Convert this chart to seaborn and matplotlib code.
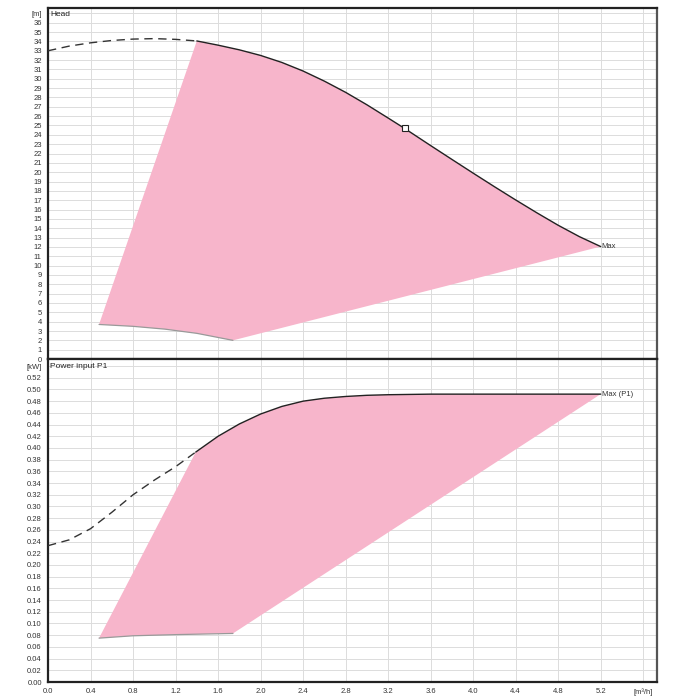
import numpy as np
import matplotlib
matplotlib.use("Agg")
import matplotlib.pyplot as plt
from matplotlib import ticker
import seaborn as sns
import pandas as pd

sns.set_style("white")
plt.rcParams["font.family"] = ["Liberation Sans", "DejaVu Sans"]

# Head curve [m] vs flow [m3/h]
head_dash_q = [0.0, 0.2, 0.4, 0.6, 0.8, 1.0, 1.2, 1.40]
head_dash_h = [33.0, 33.5, 33.85, 34.1, 34.25, 34.3, 34.22, 34.05]
head_q = [1.40, 1.6, 1.8, 2.0, 2.2, 2.4, 2.6, 2.8, 3.0, 3.2, 3.36, 3.6, 3.8, 4.0, 4.2, 4.4, 4.6, 4.8, 5.0, 5.2]
head_h = [34.05, 33.6, 33.1, 32.5, 31.75, 30.83, 29.75, 28.55, 27.22, 25.8, 24.65, 22.85, 21.37, 19.9, 18.45, 17.03, 15.65, 14.32, 13.1, 12.04]
head_min_q = [0.48, 0.8, 1.1, 1.4, 1.74]
head_min_h = [3.7, 3.5, 3.2, 2.75, 2.0]
duty_q = [3.36]
duty_h = [24.7]

# Power input P1 [kW] vs flow [m3/h]
p1_dash_q = [0.0, 0.2, 0.4, 0.6, 0.8, 1.0, 1.2, 1.39]
p1_dash_p = [0.233, 0.243, 0.262, 0.29, 0.32, 0.345, 0.368, 0.393]
p1_q = [1.39, 1.6, 1.8, 2.0, 2.2, 2.4, 2.6, 2.8, 3.0, 3.2, 3.6, 4.0, 4.4, 4.8, 5.2]
p1_p = [0.393, 0.420, 0.441, 0.458, 0.471, 0.480, 0.485, 0.488, 0.490, 0.491, 0.492, 0.492, 0.492, 0.492, 0.492]
p1_min_q = [0.48, 0.8, 1.2, 1.74]
p1_min_p = [0.075, 0.079, 0.081, 0.083]

x_ticks = [0.0, 0.4, 0.8, 1.2, 1.6, 2.0, 2.4, 2.8, 3.2, 3.6, 4.0, 4.4, 4.8, 5.2]
pink = "#f7b5cb"

fig = plt.figure(figsize=(7, 7), dpi=100)
ax1 = fig.add_axes([0.0686, 0.4871, 0.87, 0.5015])
ax2 = fig.add_axes([0.0686, 0.0257, 0.87, 0.4614])

def style_axis(ax, ymajor, yminor, ymax_lab, unit, fmt):
    ax.set_xlim(0, 5.73)
    xt = x_ticks + [5.6]
    ax.set_xticks(xt)
    ax.xaxis.set_minor_locator(ticker.MultipleLocator(0.1))
    yt = list(np.round(np.arange(0, ymax_lab + ymajor / 2, ymajor), 4))
    ax.set_yticks(yt)
    ax.set_yticklabels([fmt.format(v) for v in yt[:-1]] + [unit])
    ax.yaxis.set_minor_locator(ticker.MultipleLocator(yminor))
    ax.grid(True, which="major", color="#dcdcdc", lw=0.7)
    ax.set_axisbelow(True)
    ax.tick_params(axis="both", which="major", labelsize=5.5, length=3, width=0.7,
                   colors="#333333", pad=1.5, direction="out")
    ax.tick_params(axis="both", which="minor", length=2, width=0.5, color="#333333")
    for side in ["left", "top", "bottom"]:
        ax.spines[side].set_color("#222222")
        ax.spines[side].set_linewidth(1.6)
    ax.spines["right"].set_color("#555555")
    ax.spines["right"].set_linewidth(1.6)
    ax.set_xlabel("")
    ax.set_ylabel("")

# --- Head panel ---
poly_q = head_q + head_min_q[::-1]
poly_h = head_h + head_min_h[::-1]
ax1.fill(poly_q, poly_h, color=pink, lw=0, zorder=1)
ax1.plot(head_min_q, head_min_h, color="#999999", lw=0.9, zorder=2)
sns.lineplot(x=head_q, y=head_h, ax=ax1, color="#222222", lw=1.0, zorder=3)
ax1.plot(head_dash_q, head_dash_h, color="#333333", lw=1.0, ls=(0, (6, 4)), zorder=3)
ax1.plot(duty_q, duty_h, marker="s", ms=5, mfc="white", mec="#222222", mew=0.8, ls="none", zorder=4)
ax1.text(head_q[-1] + 0.01, head_h[-1], "Max", fontsize=5.5, va="center", ha="left", color="#333333")
ax1.text(0.02, 36.9, "Head", fontsize=6, va="center", ha="left", color="#222222")
style_axis(ax1, 1, 0.25, 37, "[m]", "{:.0f}")
ax1.set_ylim(0, 37.58)
ax1.tick_params(axis="x", which="both", labelbottom=False, length=0)

# --- Power panel ---
poly_q2 = p1_q + p1_min_q[::-1]
poly_p2 = p1_p + p1_min_p[::-1]
ax2.fill(poly_q2, poly_p2, color=pink, lw=0, zorder=1)
ax2.plot(p1_min_q, p1_min_p, color="#999999", lw=0.9, zorder=2)
sns.lineplot(x=p1_q, y=p1_p, ax=ax2, color="#222222", lw=1.0, zorder=3)
ax2.plot(p1_dash_q, p1_dash_p, color="#333333", lw=1.0, ls=(0, (6, 4)), zorder=3)
ax2.text(p1_q[-1] + 0.01, p1_p[-1], "Max (P1)", fontsize=5.5, va="center", ha="left", color="#333333")
ax2.text(0.02, 0.54, "Power input P1", fontsize=6, va="center", ha="left", color="#222222")
style_axis(ax2, 0.02, 0.005, 0.54, "[kW]", "{:.2f}")
ax2.set_ylim(0, 0.552)
ax2.set_xticklabels(["{:.1f}".format(v) for v in x_ticks] + ["[m³/h]"])

fig.savefig("out.png", dpi=100)
